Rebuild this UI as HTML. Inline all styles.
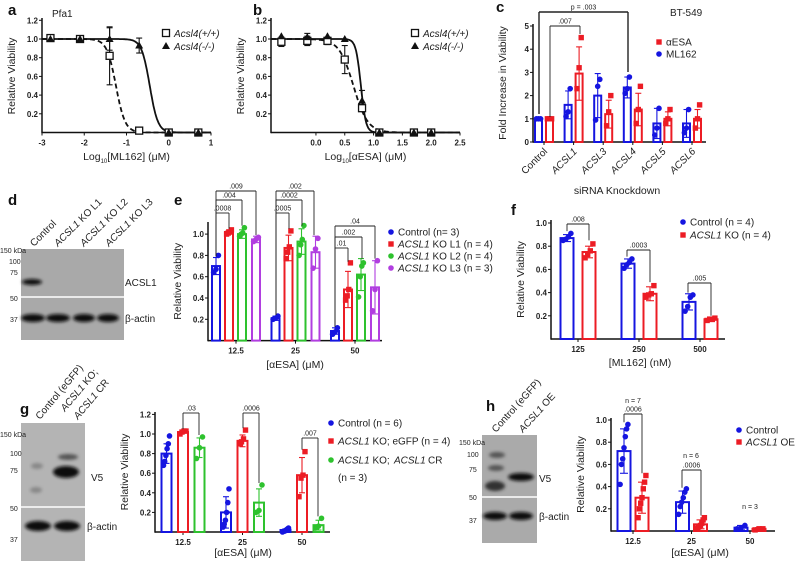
<!DOCTYPE html>
<html><head><meta charset="utf-8"><style>
html,body{margin:0;padding:0;background:#fff}
svg{display:block;font-family:"Liberation Sans",Arial,sans-serif}
.tk{font-size:8px;font-weight:bold;fill:#222}
.at{font-size:10.5px;fill:#222}
.lg{font-size:10px;fill:#222}
.pl{font-size:15px;font-weight:bold;fill:#111}
.sm{font-size:7px;fill:#222}
.mw{font-size:7px;fill:#222}
</style></head><body>
<svg id="fig" width="796" height="561" viewBox="0 0 796 561" xmlns="http://www.w3.org/2000/svg">
<defs><filter id="bl" x="-20%" y="-50%" width="140%" height="200%"><feGaussianBlur stdDeviation="1.6"/></filter></defs>
<text class="pl" x="8" y="15">a</text>
<text class="pl" x="253" y="15">b</text>
<text class="pl" x="496" y="12">c</text>
<text class="pl" x="8" y="205">d</text>
<text class="pl" x="174" y="205">e</text>
<text class="pl" x="511" y="215">f</text>
<text class="pl" x="20" y="414">g</text>
<text class="pl" x="486" y="411">h</text>
<text class="lg" x="52" y="17">Pfa1</text>
<text class="lg" x="670" y="16" font-size="10.5">BT-549</text>

<g>
<rect x="21" y="249" width="103" height="91" fill="#a9a9a9"/>
<line x1="21" y1="297" x2="124" y2="297" stroke="#fff" stroke-width="1.5"/>
<ellipse cx="32" cy="282" rx="10" ry="3" fill="#111" filter="url(#bl)"/>
<ellipse cx="33" cy="318" rx="12" ry="4" fill="#111" filter="url(#bl)"/>
<ellipse cx="58" cy="318" rx="12" ry="4" fill="#111" filter="url(#bl)"/>
<ellipse cx="84" cy="318" rx="11" ry="4" fill="#111" filter="url(#bl)"/>
<ellipse cx="108" cy="318" rx="11" ry="4" fill="#111" filter="url(#bl)"/>
</g>
<text class="mw" x="0" y="253">150 kDa</text>
<text class="mw" x="9" y="264">100</text>
<text class="mw" x="10" y="275">75</text>
<text class="mw" x="10" y="301">50</text>
<text class="mw" x="10" y="322">37</text>
<text class="lg" x="125" y="286">ACSL1</text>
<text class="lg" x="125" y="322">β-actin</text>
<text class="lg" transform="translate(34,247) rotate(-45)">Control</text>
<text class="lg" transform="translate(58,247) rotate(-45)"><tspan font-style="italic">ACSL1</tspan> KO L1</text>
<text class="lg" transform="translate(84,247) rotate(-45)"><tspan font-style="italic">ACSL1</tspan> KO L2</text>
<text class="lg" transform="translate(109,247) rotate(-45)"><tspan font-style="italic">ACSL1</tspan> KO L3</text>

<g>
<rect x="21" y="423" width="64" height="138" fill="#b4b4b4"/>
<line x1="21" y1="507" x2="85" y2="507" stroke="#fff" stroke-width="1.5"/>
<ellipse cx="66" cy="472" rx="13" ry="6" fill="#111" filter="url(#bl)"/>
<ellipse cx="68" cy="457" rx="10" ry="3" fill="#555" filter="url(#bl)"/>
<ellipse cx="37" cy="466" rx="6" ry="3" fill="#888" filter="url(#bl)"/>
<ellipse cx="36" cy="490" rx="6" ry="3" fill="#888" filter="url(#bl)"/>
<ellipse cx="38" cy="526" rx="13" ry="5" fill="#111" filter="url(#bl)"/>
<ellipse cx="67" cy="526" rx="13" ry="5" fill="#111" filter="url(#bl)"/>
</g>
<text class="mw" x="0" y="437">150 kDa</text>
<text class="mw" x="10" y="456">100</text>
<text class="mw" x="10" y="473">75</text>
<text class="mw" x="10" y="511">50</text>
<text class="mw" x="10" y="542">37</text>
<text class="lg" x="91" y="481">V5</text>
<text class="lg" x="87" y="530">β-actin</text>
<text class="lg" font-size="9.5" transform="translate(40,420) rotate(-50)">Control (eGFP)</text>
<text class="lg" font-size="9.5" transform="translate(65,412) rotate(-50)"><tspan font-style="italic">ACSL1</tspan> KO;</text>
<text class="lg" font-size="9.5" transform="translate(78,420) rotate(-50)"><tspan font-style="italic">ACSL1</tspan> CR</text>

<g>
<rect x="482" y="435" width="55" height="108" fill="#aaa"/>
<line x1="482" y1="497" x2="537" y2="497" stroke="#fff" stroke-width="1.5"/>
<ellipse cx="521" cy="477" rx="13" ry="4" fill="#111" filter="url(#bl)"/>
<ellipse cx="495" cy="486" rx="10" ry="5" fill="#333" filter="url(#bl)"/>
<ellipse cx="496" cy="468" rx="8" ry="3" fill="#555" filter="url(#bl)"/>
<ellipse cx="497" cy="455" rx="8" ry="3" fill="#555" filter="url(#bl)"/>
<ellipse cx="495" cy="516" rx="12" ry="4" fill="#111" filter="url(#bl)"/>
<ellipse cx="521" cy="516" rx="12" ry="4" fill="#111" filter="url(#bl)"/>
</g>
<text class="mw" x="459" y="445">150 kDa</text>
<text class="mw" x="467" y="457">100</text>
<text class="mw" x="469" y="472">75</text>
<text class="mw" x="469" y="500">50</text>
<text class="mw" x="469" y="523">37</text>
<text class="lg" x="539" y="482">V5</text>
<text class="lg" x="539" y="520">β-actin</text>
<text class="lg" font-size="9.5" transform="translate(496,433) rotate(-48)">Control (eGFP)</text>
<text class="lg" font-size="9.5" transform="translate(523,433) rotate(-48)"><tspan font-style="italic">ACSL1</tspan> OE</text>
</svg>
<script>
const aX=[-2.8,-2.1,-1.4,-0.7,0,0.7];
const aWT=[1.01,1.0,0.82,0.02,0,0];
const aWTerr=[0.01,0.01,0.31,0,0,0];
const aKO=[1.0,1.0,1.0,0.93,0,0];
const aKOerr=[0,0,0.12,0.08,0,0];
const aFitWT=[-1.25,4];
const aFitKO=[-0.45,4.5];
const aTicks=[-3,-2,-1,0,1];
const bX=[-0.6,-0.15,0.2,0.5,0.8,1.1,1.7,2.0];
const bWT=[0.97,0.98,0.98,0.78,0.26,0.0,0,0];
const bWTerr=[0.05,0.05,0.04,0.15,0.03,0,0,0];
const bKO=[1.03,1.02,1.03,1.0,0.34,0,0,0];
const bKOerr=[0.02,0.04,0.02,0,0.11,0,0,0];
const bFitWT=[0.65,3.5];
const bFitKO=[0.78,10];
const bTicks=[0.0,0.5,1.0,1.5,2.0,2.5];
const vTicks=[0.2,0.4,0.6,0.8,1.0,1.2];

const cCats=['Control','ACSL1','ACSL3','ACSL4','ACSL5','ACSL6'];
const cBlue=[1,1.6,2.0,2.35,0.8,0.8];
const cBlueSD=[0.02,0.6,0.95,0.45,0.65,0.6];
const cRed=[1,2.95,1.2,1.4,1.0,1.0];
const cRedSD=[0.03,1.15,0.6,0.7,0.3,0.4];
const cBluePts=[[1,1,1],[1.1,1.3,2.3],[0.95,2.4,2.7],[2.1,2.3,2.8],[0.3,0.6,1.45],[0.4,0.6,1.4]];
const cRedPts=[[1,1,1],[2.3,3.2,4.5],[0.7,1.3,2.0],[0.8,1.4,2.4],[0.8,1.0,1.4],[0.6,1.0,1.6]];
const cTicks=[0,1,2,3,4,5];

const eCats=['12.5','25','50'];
const eCtrl=[0.70,0.21,0.09], eCtrlSD=[0.08,0.02,0.03];
const eL1=[1.02,0.87,0.48], eL1SD=[0.02,0.12,0.17];
const eL2=[1.0,0.93,0.62], eL2SD=[0.04,0.12,0.15];
const eL3=[0.95,0.83,0.50], eL3SD=[0.03,0.15,0.25];
const eCtrlPts=[[.64,.67,.80],[.2,.21,.23],[.06,.08,.12]];
const eL1Pts=[[1.0,1.01,1.02,1.04],[.77,.83,.88,1.03],[.38,.42,.48,.73]];
const eL2Pts=[[.98,1.0,1.01,1.06],[.8,.9,.95,1.08],[.41,.6,.7,.73]];
const eL3Pts=[[.93,.95,.97],[.68,.86,.96],[.28,.48,.75]];

const fCats=['125','250','500'];
const fCtrl=[0.87,0.65,0.32], fCtrlSD=[0.03,0.04,0.07];
const fKO=[0.75,0.39,0.17], fKOSD=[0.05,0.06,0.02];
const fCtrlPts=[[.85,.86,.88,.91],[.61,.64,.66,.69],[.24,.28,.36,.38]];
const fKOPts=[[.70,.73,.76,.82],[.36,.38,.39,.46],[.16,.17,.17,.18]];

const gCats=['12.5','25','50'];
const gCtrl=[0.80,0.20,0.02], gCtrlSD=[0.1,0.16,0.01];
const gKO=[1.02,0.93,0.58], gKOSD=[0.01,0.06,0.18];
const gCR=[0.86,0.30,0.07], gCRSD=[0.1,0.14,0.05];
const gCtrlPts=[[.68,.72,.78,.85,.9,.98],[.05,.08,.12,.2,.3,.44],[0,.01,.01,.02,.03,.04]];
const gKOPts=[[1.0,1.02,1.03,1.03],[.9,.92,.95,1.04],[.36,.55,.58,.82]];
const gCRPts=[[.75,.86,.97],[.2,.22,.48],[.04,.06,.14]];

const hCats=['12.5','25','50'];
const hCtrl=[0.72,0.26,0.03], hCtrlSD=[0.2,0.1,0.02];
const hOE=[0.30,0.06,0.02], hOESD=[0.14,0.04,0.01];
const hCtrlPts=[[.42,.6,.65,.75,.85,.92,.96],[.15,.22,.26,.3,.35,.38],[.02,.03,.05]];
const hOEPts=[[.12,.2,.25,.3,.38,.44,.5],[.02,.03,.04,.05,.07,.1,.12],[.01,.02,.02]];

const NS='http://www.w3.org/2000/svg';
const svg=document.getElementById('fig');
const BLUE='#1515e0',RED='#ec1c24',GREEN='#2ec22e',PURPLE='#b13ee0';
function mk(tag,attrs){const e=document.createElementNS(NS,tag);for(const k in attrs)e.setAttribute(k,attrs[k]);svg.appendChild(e);return e;}
function txt(x,y,s,cls,anchor,name,extra){
  const t=mk('text',Object.assign({x:x,y:y,class:cls,'text-anchor':anchor||'start'},extra||{}));
  t.textContent=s;
  
  
  return t;}
function line(x1,y1,x2,y2,col,w,name,dash){
  const l=mk('line',{x1:x1,y1:y1,x2:x2,y2:y2,stroke:col,'stroke-width':w});
  if(dash)l.setAttribute('stroke-dasharray',dash);
  
  
  return l;}
function marker(type,x,y,col,name){
  let m;
  if(type==='sq') m=mk('rect',{x:x-2.7,y:y-2.7,width:5.4,height:5.4,fill:col});
  else if(type==='osq') m=mk('rect',{x:x-3.5,y:y-3.5,width:7,height:7,fill:'#fff',stroke:'#111','stroke-width':1.3});
  else if(type==='tri') m=mk('polygon',{points:`${x},${y-4} ${x-4},${y+3} ${x+4},${y+3}`,fill:'#111'});
  else m=mk('circle',{cx:x,cy:y,r:2.8,fill:col});
  
  
  return m;}
function errbar(x,y1,y2,col,w,name){
  line(x,y1,x,y2,col,1.1,name);
  line(x-w,y1,x+w,y1,col,1.1,name+'-cap');
  line(x-w,y2,x+w,y2,col,1.1,name+'-cap');}

function doseChart(id,xmin,xmax,xl,xr,xs,ticks,tickFmt,wt,wtE,ko,koE,fitWT,fitKO,xTitleSub){
  const y0=132.5,per=93.5;
  const X=v=>xl+(v-xmin)/(xmax-xmin)*(xr-xl), Y=v=>y0-v*per;
  line(xl,18,xl,y0+0.7,'#111',1.5,id+'-y-axis');
  line(xl,y0,xr,y0,'#111',1.5,id+'-x-axis');
  vTicks.forEach(t=>{line(xl-3,Y(t),xl,Y(t),'#111',1,id+'-y-tick');txt(xl-4,Y(t)+3,t.toFixed(1),'tk','end',id+'-y-tick-label');});
  ticks.forEach(t=>{line(X(t),y0,X(t),y0+3,'#111',1,id+'-x-tick');txt(X(t),y0+13,tickFmt(t),'tk','middle',id+'-x-tick-label');});
  const curve=(f,dash,name)=>{let d='';for(let i=0;i<=200;i++){const v=xmin+(xmax-xmin)*i/200;const y=1/(1+Math.pow(10,f[1]*(v-f[0])));d+=(i?'L':'M')+X(v).toFixed(1)+','+Y(y).toFixed(1);}
    const p=mk('path',{d:d,fill:'none',stroke:'#111','stroke-width':1.8});if(dash)p.setAttribute('stroke-dasharray',dash);
    };
  curve(fitWT,'5,3',id+'-fit-wt');
  curve(fitKO,null,id+'-fit-ko');
  xs.forEach((v,i)=>{if(wtE[i]>0.02)errbar(X(v),Y(wt[i]-wtE[i]),Y(Math.min(wt[i]+wtE[i],1.2)),'#111',3,id+'-wt-err');
    if(koE[i]>0.02)errbar(X(v),Y(ko[i]-koE[i]),Y(ko[i]+koE[i]),'#111',3,id+'-ko-err');});
  xs.forEach((v,i)=>{marker('osq',X(v),Y(wt[i]),'#111',id+'-wt-point');marker('tri',X(v),Y(ko[i]),'#111',id+'-ko-point');});
  txt(0,0,'Relative Viability','at','middle',id+'-y-axis-title',{transform:`translate(${xl-27},76) rotate(-90)`});
  const xt=txt((xl+xr)/2,160,'Log','at','middle',id+'-x-axis-title');
  const s1=document.createElementNS(NS,'tspan');s1.setAttribute('font-size','6');s1.setAttribute('dy','3');s1.textContent='10';xt.appendChild(s1);
  const s2=document.createElementNS(NS,'tspan');s2.setAttribute('dy','-3');s2.textContent=xTitleSub;xt.appendChild(s2);
  const lx=xr-45;
  marker('osq',lx,33,'#111',id+'-legend-wt-marker');
  txt(lx+8,37,'Acsl4(+/+)','lg','start',id+'-legend-wt',{'font-style':'italic'});
  marker('tri',lx,46,'#111',id+'-legend-ko-marker');
  txt(lx+8,50,'Acsl4(-/-)','lg','start',id+'-legend-ko',{'font-style':'italic'});
}
doseChart('a',-3,1,42,211,aX,aTicks,t=>String(t),aWT,aWTerr,aKO,aKOerr,aFitWT,aFitKO,'[ML162] (μM)');
doseChart('b',-0.78,2.5,271,460,bX,bTicks,t=>t.toFixed(1),bWT,bWTerr,bKO,bKOerr,bFitWT,bFitKO,'[αESA] (μM)');

function barChart(o){
  const Y=v=>o.zero-v*o.per;
  line(o.xl,o.top,o.xl,o.zero+0.7,'#111',1.5,o.id+'-y-axis');
  line(o.xl,o.zero,o.xr,o.zero,'#111',1.5,o.id+'-x-axis');
  o.ticks.forEach(t=>{line(o.xl-3,Y(t),o.xl,Y(t),'#111',1,o.id+'-y-tick');txt(o.xl-4,Y(t)+3,o.fmt(t),'tk','end',o.id+'-y-tick-label');});
  o.cats.forEach((c,i)=>{const gx=o.g0+i*o.gs;line(gx,o.zero,gx,o.zero+3,'#111',1,o.id+'-x-tick');
    if(!o.rot)txt(gx,o.zero+13,c,'tk','middle',o.id+'-x-tick-label');
    else txt(gx+4,o.zero+10,c,'lg','end',o.id+'-x-tick-label',{transform:`rotate(-45 ${gx+4} ${o.zero+10})`,'font-size':'10.5','font-style':i?'italic':'normal'});});
  o.series.forEach((s)=>{
    o.cats.forEach((c,i)=>{
      const cx=o.g0+i*o.gs+s.off, v=s.vals[i];
      const r=mk('rect',{x:cx-o.bw/2,y:Y(v),width:o.bw,height:o.zero-Y(v),fill:'#fff',stroke:s.col,'stroke-width':2});
      
      
      errbar(cx,Y(Math.max(v-s.sd[i],0)),Y(v+s.sd[i]),s.col,o.cap,o.id+'-err-'+s.key);
      const pts=s.pts[i];
      pts.forEach((p,k)=>{const jx=(k-(pts.length-1)/2)*(o.bw*0.5/Math.max(1,pts.length-1))*2;
        marker(s.m,cx+jx*0.6,Y(p),s.col,o.id+'-point-'+s.key);});
    });
  });
  txt(0,0,o.yTitle,'at','middle',o.id+'-y-axis-title',{transform:`translate(${o.xl-27},${(o.top+o.zero)/2}) rotate(-90)`});
  if(o.xTitle)txt(o.xtX,o.xtY,o.xTitle,'at','middle',o.id+'-x-axis-title');
  return Y;
}
function bracket(x1,x2,y,yd1,yd2,label,name,dash,fs){
  line(x1,yd1,x1,y,'#222',dash?1.4:0.9,name,dash);
  line(x1,y,x2,y,'#222',dash?1.4:0.9,name,dash);
  line(x2,y,x2,yd2,'#222',dash?1.4:0.9,name,dash);
  txt((x1+x2)/2,y-2.5,label,'sm','middle',name+'-label',{'font-size':fs||7});
}
function legend(x,y,col,m,label,name,italicPrefix){
  marker(m,x,y,col,name+'-marker');
  const t=txt(x+7,y+3.5,'','lg','start',name);
  if(italicPrefix){const s=document.createElementNS(NS,'tspan');s.setAttribute('font-style','italic');s.textContent=italicPrefix;t.appendChild(s);}
  t.appendChild(document.createTextNode(label));
}

barChart({id:'c',xl:533,xr:706,top:24,zero:142,per:23.2,ticks:cTicks,fmt:t=>String(t),cats:cCats,g0:544,gs:29.6,bw:7,cap:3,rot:true,
  series:[{key:'ml162',vals:cBlue,sd:cBlueSD,pts:cBluePts,col:BLUE,m:'c',off:-5.5},{key:'aesa',vals:cRed,sd:cRedSD,pts:cRedPts,col:RED,m:'sq',off:5.5}],
  yTitle:'Fold Increase in Viability'});
txt(617,194,'siRNA Knockdown','at','middle','c-x-axis-title');
bracket(539,628,12,114,72,'p = .003','c-bracket-control-acsl4',true,8);
bracket(550,580,26,117,34,'.007','c-bracket-control-acsl1',false,8);
legend(659,42,RED,'sq','αESA','c-legend-aesa');
legend(659,54,BLUE,'c','ML162','c-legend-ml162');

const Ye=barChart({id:'e',xl:208,xr:382,top:222,zero:340.6,per:106.5,ticks:[0.2,0.4,0.6,0.8,1.0],fmt:t=>t.toFixed(1),cats:eCats,g0:236,gs:59.5,bw:8,cap:3,
  series:[{key:'control',vals:eCtrl,sd:eCtrlSD,pts:eCtrlPts,col:BLUE,m:'c',off:-20},{key:'l1',vals:eL1,sd:eL1SD,pts:eL1Pts,col:RED,m:'sq',off:-7},
          {key:'l2',vals:eL2,sd:eL2SD,pts:eL2Pts,col:GREEN,m:'c',off:6},{key:'l3',vals:eL3,sd:eL3SD,pts:eL3Pts,col:PURPLE,m:'c',off:20}],
  yTitle:'Relative Viability',xTitle:'[αESA] (μM)',xtX:295,xtY:368});
bracket(216,256,191,Ye(0.79),Ye(0.99),'.009','e-bracket-12-l3');
bracket(216,242,200,Ye(0.79),Ye(1.08),'.004','e-bracket-12-l2');
bracket(216,229,213,Ye(0.79),Ye(1.05),'.0008','e-bracket-12-l1');
bracket(276,314,191,Ye(0.24),Ye(0.99),'.002','e-bracket-25-l3');
bracket(276,302,200,Ye(0.24),Ye(1.08),'.0002','e-bracket-25-l2');
bracket(276,289,213,Ye(0.24),Ye(1.05),'.0005','e-bracket-25-l1');
bracket(335,375,226,Ye(0.13),Ye(0.77),'.04','e-bracket-50-l3');
bracket(335,362,237,Ye(0.13),Ye(0.77),'.002','e-bracket-50-l2');
bracket(335,348,248,Ye(0.13),Ye(0.74),'.01','e-bracket-50-l1');
legend(391,232,BLUE,'c','Control (n= 3)','e-legend-control');
legend(391,244,RED,'sq',' KO L1 (n = 4)','e-legend-l1','ACSL1');
legend(391,256,GREEN,'c',' KO L2 (n = 4)','e-legend-l2','ACSL1');
legend(391,268,PURPLE,'c',' KO L3 (n = 3)','e-legend-l3','ACSL1');

const Yf=barChart({id:'f',xl:551,xr:725,top:220,zero:339,per:116,ticks:[0.2,0.4,0.6,0.8,1.0],fmt:t=>t.toFixed(1),cats:fCats,g0:578,gs:61,bw:13,cap:4,
  series:[{key:'control',vals:fCtrl,sd:fCtrlSD,pts:fCtrlPts,col:BLUE,m:'c',off:-11},{key:'ko',vals:fKO,sd:fKOSD,pts:fKOPts,col:RED,m:'sq',off:11}],
  yTitle:'Relative Viability',xTitle:'[ML162] (nM)',xtX:640,xtY:366});
bracket(567,589,224,Yf(0.93),Yf(0.85),'.008','f-bracket-125');
bracket(627,650,250,Yf(0.71),Yf(0.49),'.0003','f-bracket-250');
bracket(688,711,283,Yf(0.40),Yf(0.20),'.005','f-bracket-500');
legend(683,222,BLUE,'c','Control (n = 4)','f-legend-control');
legend(683,235,RED,'sq',' KO (n = 4)','f-legend-ko','ACSL1');

const Yg=barChart({id:'g',xl:155,xr:330,top:412,zero:532,per:98,ticks:[0.2,0.4,0.6,0.8,1.0,1.2],fmt:t=>t.toFixed(1),cats:gCats,g0:183,gs:59.5,bw:10,cap:3,
  series:[{key:'control',vals:gCtrl,sd:gCtrlSD,pts:gCtrlPts,col:BLUE,m:'c',off:-16.5},{key:'egfp',vals:gKO,sd:gKOSD,pts:gKOPts,col:RED,m:'sq',off:0},
          {key:'cr',vals:gCR,sd:gCRSD,pts:gCRPts,col:GREEN,m:'c',off:16.5}],
  yTitle:'Relative Viability',xTitle:'[αESA] (μM)',xtX:243,xtY:556});
bracket(183,199,413,Yg(1.05),Yg(0.99),'.03','g-bracket-12');
bracket(243,259,413,Yg(1.06),Yg(0.5),'.0006','g-bracket-25');
bracket(302,318,438,Yg(0.84),Yg(0.16),'.007','g-bracket-50');
legend(331,423,BLUE,'c','Control (n = 6)','g-legend-control');
legend(331,441,RED,'sq',' KO; eGFP (n = 4)','g-legend-egfp','ACSL1');
legend(331,460,GREEN,'c',' KO; ','g-legend-cr','ACSL1');
txt(394,463.5,'ACSL1','lg','start','g-legend-cr-italic',{'font-style':'italic'});
txt(428,463.5,'CR','lg','start','g-legend-cr-suffix');
txt(338,481,'(n = 3)','lg','start','g-legend-cr-n');

const Yh=barChart({id:'h',xl:611,xr:775,top:418,zero:531,per:111,ticks:[0.2,0.4,0.6,0.8,1.0],fmt:t=>t.toFixed(1),cats:hCats,g0:633,gs:58.5,bw:13,cap:4,
  series:[{key:'control',vals:hCtrl,sd:hCtrlSD,pts:hCtrlPts,col:BLUE,m:'c',off:-9},{key:'oe',vals:hOE,sd:hOESD,pts:hOEPts,col:RED,m:'sq',off:9}],
  yTitle:'Relative Viability',xTitle:'[αESA] (μM)',xtX:700,xtY:556});
bracket(624,642,414,Yh(0.98),Yh(0.52),'.0006','h-bracket-12');
txt(633,403,'n = 7','sm','middle','h-n-12');
bracket(682,701,470,Yh(0.39),Yh(0.14),'.0006','h-bracket-25');
txt(691,458,'n = 6','sm','middle','h-n-25');
txt(750,509,'n = 3','sm','middle','h-n-50');
legend(739,430,BLUE,'c','Control','h-legend-control');
legend(739,442,RED,'sq',' OE','h-legend-oe','ACSL1');
</script>
</body></html>
